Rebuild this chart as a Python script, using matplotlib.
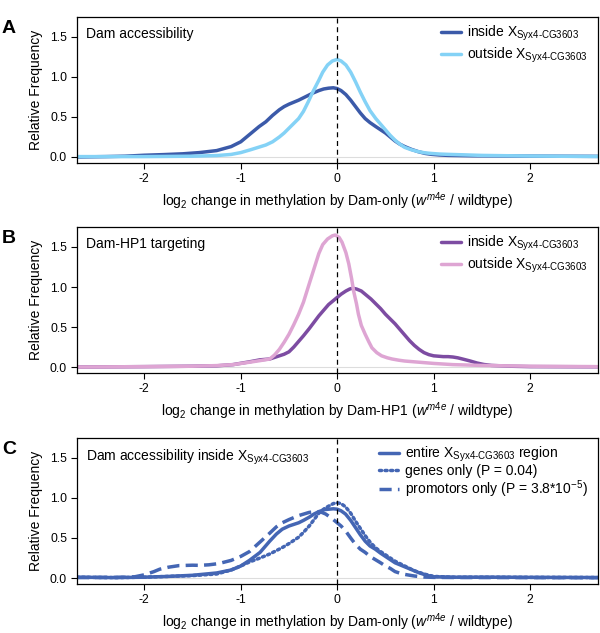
import matplotlib
matplotlib.use("Agg")
import matplotlib.pyplot as plt

plt.rcParams['font.family'] = ['Liberation Sans', 'DejaVu Sans']
plt.rcParams['mathtext.fontset'] = 'custom'
plt.rcParams['mathtext.rm'] = 'Liberation Sans'
plt.rcParams['mathtext.it'] = 'Liberation Sans:italic'
plt.rcParams['mathtext.bf'] = 'Liberation Sans:bold'

# ---- Panel A: Dam accessibility ----
a_in_x = [-2.7, -2.4, -2.2, -2.0, -1.8, -1.6, -1.43, -1.25, -1.1, -1.0, -0.94, -0.88, -0.81, -0.74, -0.67,
          -0.6, -0.55, -0.5, -0.45, -0.4, -0.35, -0.3, -0.25, -0.19, -0.14, -0.09, -0.04, 0.0, 0.04, 0.09,
          0.14, 0.19, 0.24, 0.29, 0.34, 0.4, 0.45, 0.5, 0.55, 0.6, 0.65, 0.7, 0.77, 0.84, 0.91, 0.98,
          1.06, 1.15, 1.4, 1.8, 2.2, 2.7]
a_in_y = [0.0, 0.005, 0.01, 0.022, 0.03, 0.04, 0.055, 0.08, 0.13, 0.19, 0.25, 0.31, 0.38, 0.44, 0.52,
          0.59, 0.63, 0.66, 0.685, 0.71, 0.74, 0.77, 0.80, 0.83, 0.85, 0.86, 0.865, 0.855, 0.83, 0.78,
          0.71, 0.63, 0.55, 0.48, 0.43, 0.38, 0.34, 0.30, 0.25, 0.20, 0.16, 0.13, 0.095, 0.067, 0.045, 0.033,
          0.025, 0.02, 0.015, 0.012, 0.01, 0.008]
a_out_x = [-2.7, -2.0, -1.5, -1.25, -1.1, -1.0, -0.9, -0.82, -0.74, -0.67, -0.6, -0.55, -0.5, -0.45, -0.4,
           -0.35, -0.3, -0.25, -0.19, -0.15, -0.1, -0.05, 0.0, 0.04, 0.09, 0.14, 0.19, 0.24, 0.29, 0.34,
           0.4, 0.45, 0.5, 0.55, 0.6, 0.65, 0.7, 0.77, 0.84, 0.91, 0.98, 1.06, 1.15, 1.5, 2.0, 2.7]
a_out_y = [0.005, 0.005, 0.01, 0.018, 0.032, 0.055, 0.09, 0.12, 0.15, 0.19, 0.25, 0.30, 0.36, 0.42, 0.48,
           0.57, 0.69, 0.82, 0.96, 1.06, 1.15, 1.20, 1.22, 1.20, 1.15, 1.06, 0.94, 0.81, 0.69, 0.58,
           0.48, 0.41, 0.34, 0.27, 0.21, 0.16, 0.12, 0.09, 0.067, 0.052, 0.044, 0.037, 0.033, 0.02, 0.012, 0.006]

# ---- Panel B: Dam-HP1 targeting ----
b_in_x = [-2.7, -2.0, -1.5, -1.25, -1.08, -0.91, -0.8, -0.7, -0.6, -0.55, -0.5, -0.45, -0.4, -0.35, -0.29,
          -0.24, -0.19, -0.14, -0.09, -0.04, 0.0, 0.04, 0.09, 0.13, 0.16, 0.2, 0.25, 0.3, 0.35, 0.4,
          0.45, 0.5, 0.55, 0.6, 0.65, 0.7, 0.75, 0.8, 0.85, 0.9, 0.95, 1.0, 1.05, 1.1, 1.15, 1.2,
          1.25, 1.3, 1.38, 1.45, 1.52, 1.6, 1.8, 2.0, 2.7]
b_in_y = [0.0, 0.005, 0.01, 0.015, 0.03, 0.065, 0.09, 0.10, 0.14, 0.16, 0.19, 0.25, 0.32, 0.39, 0.48,
          0.56, 0.64, 0.71, 0.78, 0.83, 0.87, 0.91, 0.95, 0.975, 0.985, 0.975, 0.95, 0.90, 0.85, 0.79,
          0.73, 0.66, 0.60, 0.54, 0.47, 0.40, 0.33, 0.27, 0.22, 0.18, 0.155, 0.14, 0.135, 0.13, 0.13, 0.125,
          0.115, 0.10, 0.075, 0.05, 0.032, 0.02, 0.01, 0.005, 0.003]
b_out_x = [-2.7, -2.0, -1.5, -1.25, -1.08, -0.91, -0.8, -0.7, -0.65, -0.6, -0.55, -0.5, -0.45, -0.4, -0.35,
           -0.29, -0.24, -0.19, -0.15, -0.1, -0.05, -0.02, 0.02, 0.05, 0.09, 0.12, 0.15, 0.17, 0.2, 0.22,
           0.25, 0.29, 0.33, 0.36, 0.41, 0.46, 0.52, 0.57, 0.64, 0.7, 0.85, 1.0, 1.2, 1.5, 2.0, 2.7]
b_out_y = [0.0, 0.005, 0.01, 0.018, 0.03, 0.06, 0.08, 0.10, 0.15, 0.22, 0.31, 0.41, 0.53, 0.66, 0.81,
           1.04, 1.23, 1.42, 1.53, 1.60, 1.64, 1.65, 1.62, 1.56, 1.43, 1.29, 1.10, 0.95, 0.79, 0.66,
           0.52, 0.41, 0.31, 0.24, 0.18, 0.14, 0.115, 0.10, 0.085, 0.075, 0.06, 0.045, 0.03, 0.02, 0.01, 0.005]

# ---- Panel C: Dam accessibility inside X ----
c_all_x = [-2.7, -2.3, -2.0, -1.75, -1.5, -1.25, -1.1, -1.0, -0.91, -0.8, -0.7, -0.63, -0.57, -0.5, -0.4,
           -0.35, -0.29, -0.24, -0.19, -0.13, -0.086, -0.04, 0.0, 0.04, 0.086, 0.14, 0.19, 0.24, 0.29, 0.34,
           0.395, 0.45, 0.5, 0.55, 0.6, 0.65, 0.7, 0.75, 0.8, 0.85, 0.9, 0.95, 1.0, 1.2, 1.6, 2.0, 2.7]
c_all_y = [0.01, 0.005, 0.01, 0.02, 0.034, 0.063, 0.10, 0.15, 0.22, 0.32, 0.46, 0.55, 0.61, 0.65, 0.69,
           0.72, 0.76, 0.80, 0.83, 0.855, 0.86, 0.865, 0.86, 0.84, 0.80, 0.72, 0.63, 0.54, 0.46, 0.40,
           0.36, 0.31, 0.27, 0.23, 0.19, 0.165, 0.14, 0.115, 0.09, 0.065, 0.045, 0.028, 0.015, 0.01, 0.01, 0.008, 0.006]
c_gene_x = [-2.7, -2.3, -2.0, -1.75, -1.5, -1.25, -1.1, -1.0, -0.91, -0.8, -0.7, -0.57, -0.5, -0.4, -0.35,
            -0.29, -0.24, -0.19, -0.13, -0.086, -0.04, 0.0, 0.04, 0.086, 0.14, 0.19, 0.24, 0.29, 0.34, 0.395,
            0.45, 0.5, 0.55, 0.6, 0.65, 0.7, 0.75, 0.8, 0.85, 0.9, 0.95, 1.0, 1.2, 1.6, 2.0, 2.7]
c_gene_y = [0.01, 0.005, 0.01, 0.02, 0.03, 0.05, 0.10, 0.15, 0.20, 0.25, 0.30, 0.38, 0.43, 0.51, 0.57,
            0.65, 0.73, 0.81, 0.87, 0.90, 0.93, 0.94, 0.93, 0.89, 0.81, 0.71, 0.62, 0.53, 0.45, 0.38,
            0.33, 0.29, 0.25, 0.21, 0.18, 0.15, 0.12, 0.09, 0.07, 0.05, 0.035, 0.02, 0.01, 0.01, 0.008, 0.006]
c_prom_x = [-2.7, -2.3, -2.2, -2.1, -2.0, -1.95, -1.9, -1.84, -1.75, -1.64, -1.5, -1.43, -1.33, -1.23, -1.1,
            -1.0, -0.91, -0.8, -0.7, -0.63, -0.57, -0.5, -0.4, -0.29, -0.22, -0.17, -0.12, -0.06, 0.0, 0.04,
            0.086, 0.14, 0.19, 0.24, 0.29, 0.34, 0.395, 0.45, 0.5, 0.55, 0.6, 0.65, 0.7, 0.8, 0.9, 1.0,
            1.3, 2.0, 2.7]
c_prom_y = [0.005, 0.008, 0.01, 0.015, 0.04, 0.06, 0.08, 0.11, 0.135, 0.155, 0.16, 0.158, 0.165, 0.18, 0.22,
            0.27, 0.33, 0.45, 0.56, 0.64, 0.69, 0.73, 0.78, 0.82, 0.83, 0.825, 0.80, 0.75, 0.69, 0.65,
            0.59, 0.50, 0.42, 0.36, 0.32, 0.27, 0.23, 0.19, 0.15, 0.12, 0.08, 0.06, 0.045, 0.025, 0.012, 0.008,
            0.006, 0.005, 0.004]

xticks = [-2, -1, 0, 1, 2]
yticks = [0.0, 0.5, 1.0, 1.5]
ytick_labels = ['0.0', '0.5', '1.0', '1.5']

SUB = r'$_{\mathrm{Syx4\text{-}CG3603}}$'
XLAB_A = r'log$_2$ change in methylation by Dam-only ($w^{m4e}$ / wildtype)'
XLAB_B = r'log$_2$ change in methylation by Dam-HP1 ($w^{m4e}$ / wildtype)'

fig = plt.figure(figsize=(6.0, 6.33), dpi=100)
left, width, height = 0.128, 0.868, 0.2307
bottoms = [0.7425, 0.4107, 0.0774]
axes = [fig.add_axes([left, b, width, height]) for b in bottoms]

FS = 10.0
TFS = 8.7
LW = 2.5

def style(ax, xlabel, title):
    ax.set_xlim(-2.7, 2.7)
    ax.set_ylim(-0.075, 1.75)
    ax.set_xticks(xticks)
    ax.set_xticklabels([str(t) for t in xticks])
    ax.set_yticks(yticks)
    ax.set_yticklabels(ytick_labels)
    ax.tick_params(direction='out', length=4, width=0.8, labelsize=TFS, pad=3)
    ax.axhline(0, color='#dddddd', lw=0.8, zorder=0)
    ax.axvline(0, color='black', lw=0.9, ls=(0, (4, 3)), zorder=5)
    ax.set_ylabel('Relative Frequency', fontsize=FS, labelpad=5)
    ax.set_xlabel(xlabel, fontsize=FS, labelpad=4)
    ax.text(0.018, 0.93, title, transform=ax.transAxes, fontsize=FS, va='top', ha='left')
    for s in ax.spines.values():
        s.set_linewidth(0.9)

common = dict(solid_joinstyle='round', solid_capstyle='round')
leg_kw = dict(loc='upper right', frameon=False, fontsize=FS, handlelength=1.45, handletextpad=0.45,
              borderaxespad=0.3, bbox_to_anchor=(1.0, 1.02))

# Panel A
ax = axes[0]
ax.plot(a_in_x, a_in_y, color='#3b5aa9', lw=LW, label='inside X' + SUB, **common)
ax.plot(a_out_x, a_out_y, color='#84d2f6', lw=LW, label='outside X' + SUB, **common)
style(ax, XLAB_A, 'Dam accessibility')
ax.legend(labelspacing=0.2, **leg_kw)

# Panel B
ax = axes[1]
ax.plot(b_in_x, b_in_y, color='#7d4ca2', lw=LW, label='inside X' + SUB, **common)
ax.plot(b_out_x, b_out_y, color='#dea5d3', lw=LW, label='outside X' + SUB, **common)
style(ax, XLAB_B, 'Dam-HP1 targeting')
ax.legend(labelspacing=0.2, **leg_kw)

# Panel C
ax = axes[2]
cc = '#4466b4'
ax.plot(c_all_x, c_all_y, color=cc, lw=LW, ls='-', label='entire X' + SUB + ' region', **common)
ax.plot(c_gene_x, c_gene_y, color=cc, lw=LW, ls=(0, (0.6, 1.0)), dash_capstyle='round',
        label='genes only (P = 0.04)')
ax.plot(c_prom_x, c_prom_y, color=cc, lw=LW, ls=(0, (3.5, 1.8)), label=r'promotors only (P = 3.8*10$^{-5}$)')
style(ax, XLAB_A, 'Dam accessibility inside X' + SUB)
ax.legend(labelspacing=0.0, **leg_kw)

for lab, b in zip(['A', 'B', 'C'], bottoms):
    fig.text(0.003, b + height - 0.005, lab, fontsize=14, fontweight='bold', va='top', ha='left')

fig.savefig('out.png', dpi=100)
